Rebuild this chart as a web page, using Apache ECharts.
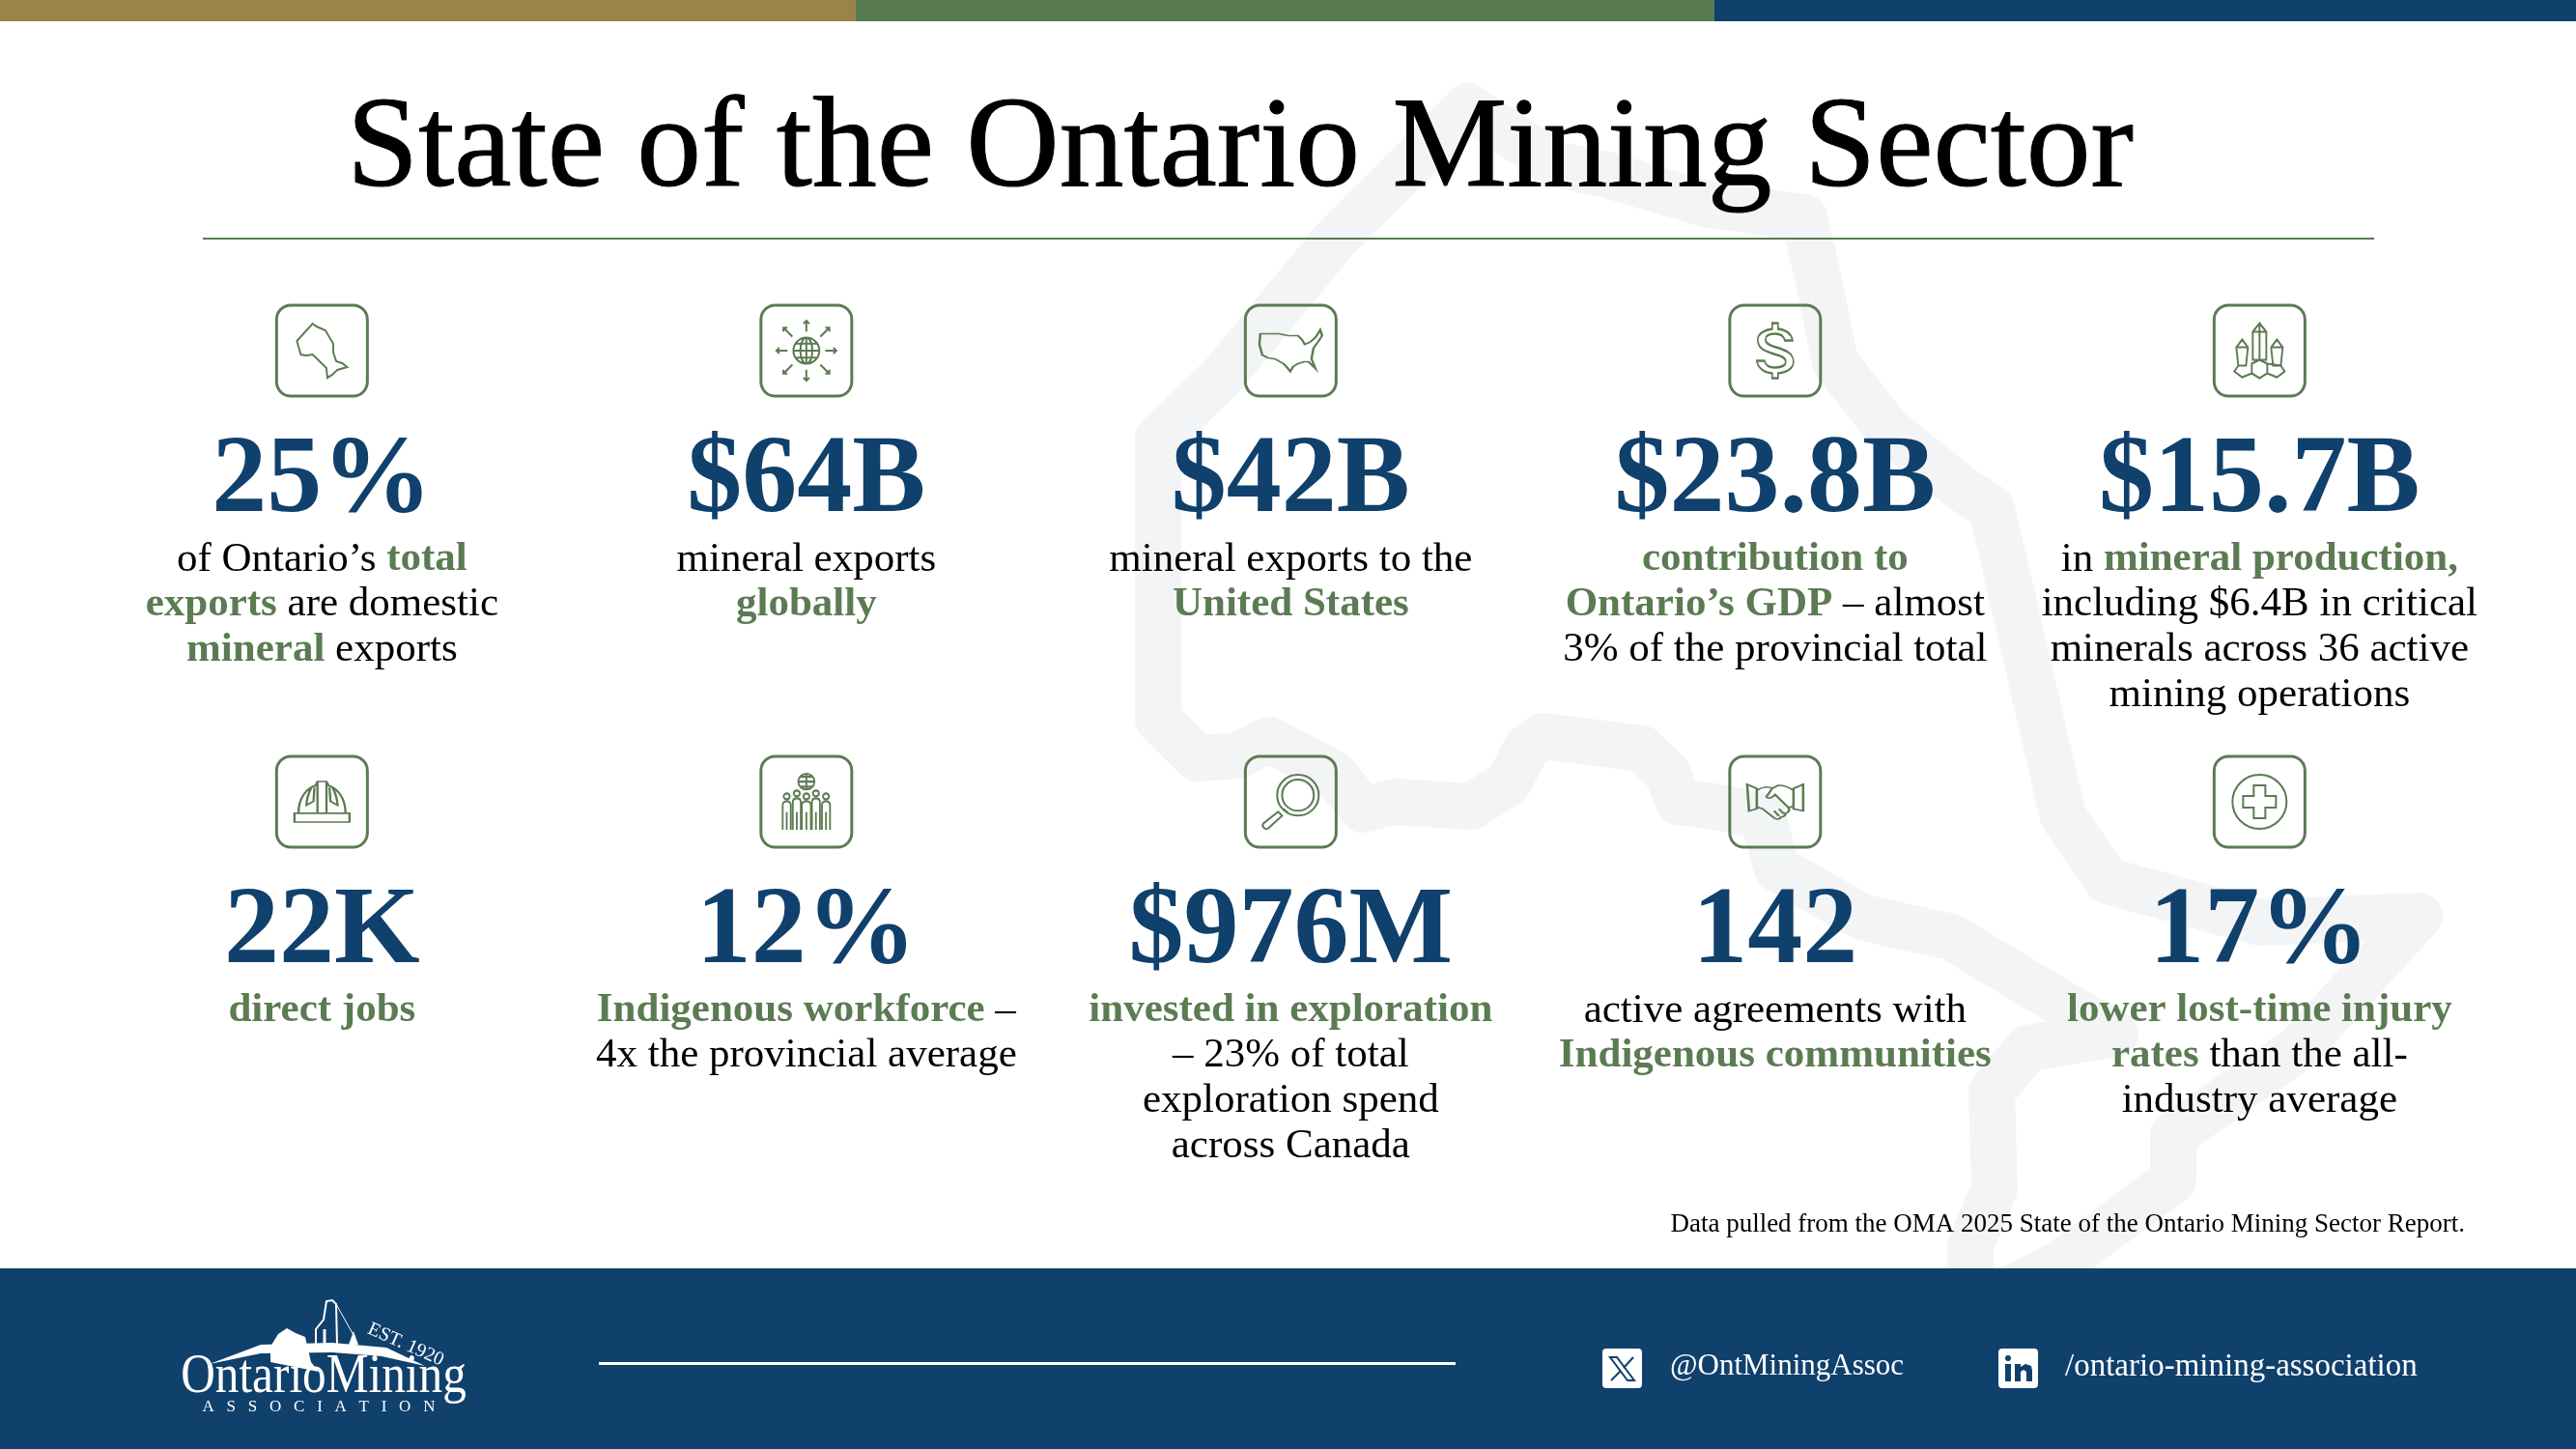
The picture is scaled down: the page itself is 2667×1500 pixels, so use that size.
<!DOCTYPE html>
<html>
<head>
<meta charset="utf-8">
<title>State of the Ontario Mining Sector</title>
<style>
  html, body { margin: 0; padding: 0; background: #fff; }
  #chart { width: 2667px; height: 1500px; }
</style>
<script src="https://cdn.jsdelivr.net/npm/echarts@6/dist/echarts.min.js"></script>
</head>
<body>
<div id="chart"></div>
<script>
const titleText = "State of the Ontario Mining Sector"
const sourceNote = "Data pulled from the OMA 2025 State of the Ontario Mining Sector Report."
const handleX = "@OntMiningAssoc"
const handleIn = "/ontario-mining-association"

const columns = ["c1", "c2", "c3", "c4", "c5"]
const rows = ["top", "bottom"]

const statValues = ["25%", "$64B", "$42B", "$23.8B", "$15.7B", "22K", "12%", "$976M", "142", "17%"]
const statNotes = [
  "{n|of Ontario’s }{g|total}\n{g|exports}{n| are domestic}\n{g|mineral}{n| exports}",
  "{n|mineral exports}\n{g|globally}",
  "{n|mineral exports to the}\n{g|United States}",
  "{g|contribution to}\n{g|Ontario’s GDP}{n| – almost}\n{n|3% of the provincial total}",
  "{n|in }{g|mineral production,}\n{n|including $6.4B in critical}\n{n|minerals across 36 active}\n{n|mining operations}",
  "{g|direct jobs}",
  "{g|Indigenous workforce}{n| –}\n{n|4x the provincial average}",
  "{g|invested in exploration}\n{n|– 23% of total}\n{n|exploration spend}\n{n|across Canada}",
  "{n|active agreements with}\n{g|Indigenous communities}",
  "{g|lower lost-time injury}\n{g|rates}{n| than the all-}\n{n|industry average}",
]

// icon outlines, one per stat
const iconPaths = [
  "M16 0L20 3L29 7L33 14L37 21L37 30L40 39L46 41L51 45L41 48L36 53L31 56L30 46L23 39L16 32L9 33L4 32L2 25L0 18L8 9Z",
  "M18 31a13 13 0 1 0 26 0a13 13 0 1 0 -26 0Z M31 18a6 13 0 0 0 0 26a6 13 0 0 0 0 -26Z M18 31H44 M20 24H42 M20 38H42 M31 18V44 M31 12V1 M28 4L31 1L34 4 M31 50V61 M28 58L31 61L34 58 M50 31H61 M58 28L61 31L58 34 M12 31H1 M4 28L1 31L4 34 M45 17L54 8 M50 8H54V12 M17 17L8 8 M8 12V8H12 M45 45L54 54 M54 50V54H50 M17 45L8 54 M8 50V54H12",
  "M1 4L20 4L30 6L40 6L44 10L47 15L52 13L58 8L63 0L65 6L61 12L56 19L54 30L58 40L51 33L46 33L40 35L35 38L32 43L28 38L25 35L16 30L9 29L3 26L0 15Z",
  "M16 0H22V6C30 7 36 11 37 18H29C28 13 24 11 19 11C13 11 9 13 9 17C9 21 13 23 20 25C30 28 38 31 38 40C38 47 31 51 22 52V57H16V52C7 51 1 46 0 39H8C9 44 13 46 19 46C25 46 30 44 30 40C30 36 26 34 18 32C9 29 1 27 1 17C1 11 8 7 16 6Z",
  "M26 0L33 9V38H19V9Z M19 9H33 M26 0V38 M8 17L14 25L12 44H4L2 25Z M2 25H14 M44 17L50 25L48 44H40L38 25Z M38 25H50 M4 44L0 50L8 56L18 52V42L26 38L34 42V52L26 57L18 52 M34 42L48 44L52 50L44 56L34 52",
  "M1 32H56V41H1Z M5 32C5 15 15 6 22 4L24 0H33L35 4C42 6 52 15 52 32 M24 0V32 M33 0V32 M18 6C14 14 13 20 13 24L20 20L21 6 M39 6C43 14 44 20 44 24L37 20L36 6",
  "M16.5 9a8 8 0 1 0 16 0a8 8 0 1 0 -16 0Z M24.5 1V17 M16.5 9H32.5 M19 4H30 M19 14H30 M2 24a3 3 0 1 0 6 0a3 3 0 1 0 -6 0Z M12 21a3 3 0 1 0 6 0a3 3 0 1 0 -6 0Z M21.5 24a3 3 0 1 0 6 0a3 3 0 1 0 -6 0Z M31 21a3 3 0 1 0 6 0a3 3 0 1 0 -6 0Z M41 24a3 3 0 1 0 6 0a3 3 0 1 0 -6 0Z M1 58V33Q1 29 5 29Q9 29 9 33V58 M5 40V58 M11 58V30Q11 26 15 26Q19 26 19 30V58 M15 40V58 M20 58V33Q20 29 24.5 29Q29 29 29 33V58 M24.5 40V58 M30 58V30Q30 26 34 26Q38 26 38 30V58 M34 40V58 M40 58V33Q40 29 44 29Q48 29 48 33V58 M44 40V58",
  "M58 21a21 21 0 1 0 -42 0a21 21 0 1 0 42 0Z M53 21a16 16 0 1 0 -32 0a16 16 0 1 0 32 0Z M22 35L27 39 M17 38L21 42L7 55C4 57 0 53 2 50Z",
  "M0 2L10 6V26L2 28Z M58 2L48 6V26L58 28Z M10 8C16 4 22 4 26 6L32 3C38 3 44 5 48 8 M10 24L16 26L28 35C31 37 34 36 35 34C38 34 40 32 40 30C43 30 44 27 43 25L48 23 M26 6L20 14C22 17 26 15 29 12L43 25 M28 28L33 33 M33 26L38 31",
  "M56 28a28 28 0 1 0 -56 0a28 28 0 1 0 56 0Z M22 11H34V22H45V34H34V45H22V34H11V22H22Z",
]
const iconSizes = [[52, 56], [62, 62], [65, 43], [38, 57], [52, 57], [57, 42], [49, 58], [58, 56], [58, 36], [56, 56]]
const framePath = "M15 0H81a15 15 0 0 1 15 15V81a15 15 0 0 1 -15 15H15a15 15 0 0 1 -15 -15V15a15 15 0 0 1 15 -15Z"

// faint province outline behind the stats
const outlinePoints = [
  [1520, 110], [1610, 170], [1660, 180], [1770, 212], [1868, 225], [1885, 300], [1900, 375], [1955, 445], [2030, 505], [2062, 526],
  [2136, 845], [2182, 912], [2340, 955], [2505, 948], [2380, 1085], [2250, 1175], [2250, 1222], [2130, 1310], [2060, 1345],
]
const outlinePoints2 = [
  [1520, 110], [1383, 247], [1265, 390], [1199, 453], [1199, 745], [1240, 785], [1282, 782], [1314, 766], [1380, 800], [1411, 838],
  [1445, 830], [1523, 835], [1562, 810], [1580, 775], [1598, 762], [1700, 775], [1726, 800], [1738, 830], [1775, 835], [1825, 845],
  [1840, 900], [1930, 950], [2020, 970], [2120, 1030], [2190, 1070], [2100, 1085], [2062, 1130], [2065, 1230], [2040, 1290], [2040, 1345],
]

const navy = "#10406c"
const green = "#5b7b52"
const serif = '"Liberation Serif", serif'

const chart = echarts.init(document.getElementById("chart"), null, { renderer: "canvas" })

const cell = (i) => [i % 5, Math.floor(i / 5)]

const option = {
  animation: false,
  backgroundColor: "#fff",
  grid: { left: 82.6, top: 129.5, width: 2507.5, height: 934 },
  xAxis: { type: "category", data: columns, show: false },
  yAxis: { type: "category", data: rows, show: false, inverse: true },
  series: [
    {
      name: "frames",
      type: "scatter",
      symbol: "path://" + framePath,
      symbolSize: 94,
      itemStyle: { color: "none", borderColor: green, borderWidth: 3, opacity: 1 },
      data: statValues.map((v, i) => cell(i)),
      silent: true,
    },
    {
      name: "icons",
      type: "scatter",
      itemStyle: { color: "none", borderColor: green, borderWidth: 2, opacity: 1 },
      data: statValues.map((v, i) => ({
        value: cell(i),
        symbol: "path://" + iconPaths[i],
        symbolSize: iconSizes[i],
      })),
      silent: true,
    },
    {
      name: "values",
      type: "scatter",
      symbolSize: 1,
      itemStyle: { color: "rgba(0,0,0,0)", opacity: 1 },
      data: statValues.map((v, i) => ({ value: cell(i), name: v })),
      label: {
        show: true,
        position: "inside",
        align: "center",
        verticalAlign: "top",
        offset: [0, 77],
        formatter: "{v|{b}}",
        rich: {
          v: { fontFamily: serif, fontSize: 114, fontWeight: "bold", color: navy, lineHeight: 120 },
        },
      },
      silent: true,
    },
    {
      name: "notes",
      type: "scatter",
      symbolSize: 1,
      itemStyle: { color: "rgba(0,0,0,0)", opacity: 1 },
      data: statValues.map((v, i) => ({ value: cell(i), name: statNotes[i] })),
      label: {
        show: true,
        position: "inside",
        align: "center",
        verticalAlign: "top",
        offset: [0, 193],
        formatter: (p) => p.name,
        rich: {
          n: { fontFamily: serif, fontSize: 43, color: "#000", lineHeight: 46.7 },
          g: { fontFamily: serif, fontSize: 43, fontWeight: "bold", color: green, lineHeight: 46.7 },
        },
      },
      silent: true,
    },
  ],
  graphic: [
    { type: "polyline", z: 0, shape: { points: outlinePoints }, style: { fill: "none", stroke: "#f3f4f6", lineWidth: 48, lineJoin: "round", lineCap: "round" } },
    { type: "polyline", z: 0, shape: { points: outlinePoints2 }, style: { fill: "none", stroke: "#f3f4f6", lineWidth: 48, lineJoin: "round", lineCap: "round" } },

    { type: "rect", z: 1, shape: { x: 0, y: 0, width: 886, height: 22 }, style: { fill: "#9a8546" } },
    { type: "rect", z: 1, shape: { x: 886, y: 0, width: 889, height: 22 }, style: { fill: "#587a50" } },
    { type: "rect", z: 1, shape: { x: 1775, y: 0, width: 892, height: 22 }, style: { fill: navy } },

    { type: "text", z: 1, x: 1284, y: 157, style: { text: titleText, font: "133.5px " + serif, fill: "#000", stroke: "#000", lineWidth: 1, textAlign: "center", textVerticalAlign: "middle" } },
    { type: "rect", z: 1, shape: { x: 210, y: 246, width: 2248, height: 2 }, style: { fill: green } },
    { type: "text", z: 1, x: 2552, y: 1268, style: { text: sourceNote, font: "27px " + serif, fill: "#000", textAlign: "right", textVerticalAlign: "middle" } },

    // footer band
    { type: "rect", z: 1, shape: { x: 0, y: 1313, width: 2667, height: 187 }, style: { fill: navy } },
    { type: "rect", z: 1, shape: { x: 620, y: 1410, width: 887, height: 3 }, style: { fill: "#fff" } },

    // logo
    { type: "polygon", z: 1, shape: { points: [[217, 1412], [270, 1392], [344, 1390], [400, 1395], [440, 1414], [395, 1404], [344, 1400], [270, 1401]] }, style: { fill: "#fff" } },
    { type: "polygon", z: 1, shape: { points: [[280, 1394], [288, 1381], [297, 1375], [306, 1380], [316, 1384], [322, 1410], [330, 1420], [300, 1414], [280, 1410]] }, style: { fill: "#fff" } },
    { type: "polyline", z: 1, shape: { points: [[327, 1392], [327, 1376], [335, 1366], [338, 1347], [344, 1346], [348, 1350], [349, 1392]] }, style: { fill: "none", stroke: "#fff", lineWidth: 2 } },
    { type: "polyline", z: 1, shape: { points: [[336, 1392], [336, 1376]] }, style: { fill: "none", stroke: "#fff", lineWidth: 3 } },
    { type: "polyline", z: 1, shape: { points: [[348, 1350], [366, 1382]] }, style: { fill: "none", stroke: "#fff", lineWidth: 1 } },
    { type: "polygon", z: 1, shape: { points: [[366, 1378], [371, 1392], [361, 1392]] }, style: { fill: "#fff" } },
    { type: "text", z: 1, x: 335, y: 1426, scaleX: 0.88, style: { text: "OntarioMining", font: "56px " + serif, fill: "#fff", textAlign: "center", textVerticalAlign: "middle" } },
    { type: "text", z: 1, x: 330, y: 1457, style: { text: "A   S   S   O   C   I   A   T   I   O   N", font: "17px " + serif, fill: "#fff", textAlign: "center", textVerticalAlign: "middle" } },
    { type: "text", z: 1, x: 420, y: 1392, rotation: -0.42, style: { text: "EST. 1920", font: "20px " + serif, fill: "#fff", textAlign: "center", textVerticalAlign: "middle" } },

    // social handles
    { type: "rect", z: 1, shape: { x: 1659, y: 1396, width: 41, height: 41, r: 4 }, style: { fill: "#fff" } },
    { type: "polygon", z: 1, shape: { points: [[1667, 1405], [1674, 1405], [1692, 1429], [1685, 1429]] }, style: { fill: "none", stroke: navy, lineWidth: 2 } },
    { type: "polyline", z: 1, shape: { points: [[1691, 1405], [1681, 1416]] }, style: { stroke: navy, lineWidth: 2 } },
    { type: "polyline", z: 1, shape: { points: [[1678, 1419], [1668, 1429]] }, style: { stroke: navy, lineWidth: 2 } },
    { type: "text", z: 1, x: 1729, y: 1415, style: { text: handleX, font: "31px " + serif, fill: "#fff", textAlign: "left", textVerticalAlign: "middle" } },

    { type: "rect", z: 1, shape: { x: 2069, y: 1396, width: 41, height: 41, r: 4 }, style: { fill: "#fff" } },
    { type: "circle", z: 1, shape: { cx: 2079, cy: 1406, r: 3 }, style: { fill: navy } },
    { type: "rect", z: 1, shape: { x: 2076, y: 1412, width: 6, height: 18 }, style: { fill: navy } },
    { type: "polygon", z: 1, shape: { points: [[2086, 1412], [2092, 1412], [2092, 1415], [2097, 1412], [2103, 1414], [2104, 1419], [2104, 1430], [2098, 1430], [2098, 1420], [2095, 1418], [2092, 1420], [2092, 1430], [2086, 1430]] }, style: { fill: navy } },
    { type: "text", z: 1, x: 2138, y: 1415, style: { text: handleIn, font: "33px " + serif, fill: "#fff", textAlign: "left", textVerticalAlign: "middle" } },
  ],
}

chart.setOption(option)
window.addEventListener("resize", () => {
  chart.resize()
})
</script>
</body>
</html>
